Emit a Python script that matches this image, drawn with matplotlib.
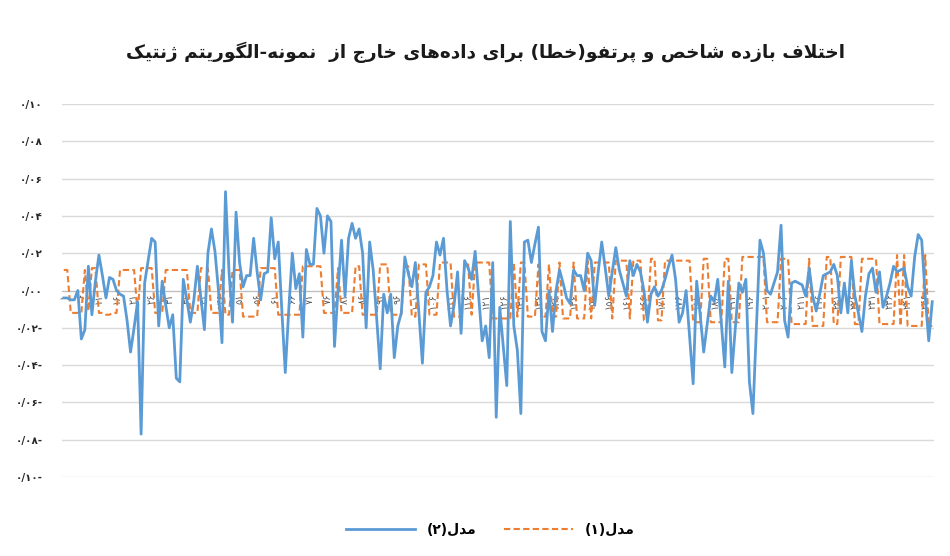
import matplotlib
matplotlib.use('Agg')
import matplotlib.pyplot as plt
from matplotlib.ticker import FuncFormatter, MultipleLocator
from matplotlib.lines import Line2D

# ---- data ----
title_text = 'اختلاف بازده شاخص و پرتفو(خطا) برای داده\u200cهای خارج از  نمونه-الگوریتم ژنتیک'
series_names = ['مدل(۱)', 'مدل(۲)']

days = list(range(1, 249))
label_step = 5

model1 = [0.011, 0.011, -0.012, -0.012, -0.012, -0.012, 0.011, -0.011, 0.012, 0.012,
          -0.012, -0.012, -0.013, -0.013, -0.012, -0.012, 0.011, 0.011, 0.011, 0.011,
          0.011, -0.012, 0.012, 0.012, 0.012, 0.012, -0.012, -0.012, -0.012, 0.011,
          0.011, 0.011, 0.011, 0.011, 0.011, 0.011, -0.012, -0.012, -0.012, 0.012,
          0.012, 0.012, -0.012, -0.012, -0.012, 0.011, -0.013, -0.013, 0.011, 0.011,
          0.011, -0.014, -0.014, -0.014, -0.014, -0.014, 0.012, 0.012, 0.012, 0.012,
          0.012, -0.013, -0.013, -0.013, -0.013, -0.013, -0.013, -0.013, 0.013, 0.013,
          0.013, 0.013, 0.013, 0.013, -0.012, -0.012, -0.012, -0.012, 0.012, -0.012,
          -0.012, -0.012, -0.012, 0.013, 0.013, -0.013, -0.013, -0.013, -0.013, -0.013,
          0.014, 0.014, 0.014, -0.013, -0.013, -0.013, -0.013, 0.013, 0.013, -0.014,
          -0.014, 0.014, 0.014, 0.014, -0.013, -0.013, -0.013, 0.015, 0.015, 0.015,
          0.015, -0.014, -0.014, -0.014, 0.014, 0.014, -0.013, 0.015, 0.015, 0.015,
          0.015, 0.015, -0.015, -0.015, -0.015, -0.015, -0.015, -0.015, 0.015, -0.014,
          0.015, 0.015, -0.014, -0.014, -0.014, 0.014, -0.014, -0.014, 0.014, -0.014,
          -0.014, 0.015, -0.015, -0.015, -0.015, 0.015, -0.015, -0.015, -0.015, 0.016,
          -0.015, 0.015, 0.015, 0.015, 0.015, 0.015, -0.015, 0.016, 0.016, 0.016,
          0.016, -0.015, 0.016, 0.016, 0.016, -0.016, -0.016, 0.017, 0.017, -0.016,
          -0.016, 0.016, 0.016, 0.016, 0.016, 0.016, 0.016, 0.016, 0.016, -0.017,
          -0.017, -0.017, 0.017, 0.017, -0.017, -0.017, -0.017, -0.017, 0.017, 0.017,
          -0.017, -0.017, -0.017, 0.018, 0.018, 0.018, 0.018, 0.018, 0.018, 0.018,
          -0.017, -0.017, -0.017, -0.017, 0.017, 0.017, 0.017, -0.018, -0.018, -0.018,
          -0.018, -0.018, 0.017, -0.019, -0.019, -0.019, -0.019, 0.018, 0.018, -0.018,
          -0.018, 0.018, 0.018, 0.018, 0.018, -0.018, -0.018, 0.017, 0.017, 0.017,
          0.017, 0.017, -0.018, -0.018, -0.018, -0.018, -0.018, 0.019, -0.019, 0.019,
          -0.019, -0.019, -0.019, -0.019, -0.019, 0.019, -0.019, -0.019]

model2 = [-0.004, -0.004, -0.005, -0.005, 0.000, -0.026, -0.021, 0.013, -0.013, 0.005,
          0.019, 0.008, -0.004, 0.007, 0.006, 0.000, -0.002, -0.003, -0.016, -0.033,
          -0.020, -0.006, -0.077, 0.004, 0.016, 0.028, 0.026, -0.019, 0.005, -0.008,
          -0.020, -0.013, -0.047, -0.049, 0.006, -0.005, -0.017, -0.005, 0.013, -0.004,
          -0.021, 0.020, 0.033, 0.021, 0.000, -0.028, 0.053, 0.010, -0.017, 0.042,
          0.015, 0.002, 0.008, 0.008, 0.028, 0.010, -0.005, 0.009, 0.010, 0.039,
          0.017, 0.026, -0.010, -0.044, -0.010, 0.020, 0.001, 0.009, -0.025, 0.022,
          0.014, 0.014, 0.044, 0.040, 0.020, 0.040, 0.037, -0.030, 0.000, 0.027,
          -0.003, 0.028, 0.036, 0.028, 0.033, 0.020, -0.020, 0.026, 0.011, -0.015,
          -0.042, -0.002, -0.012, -0.002, -0.036, -0.019, -0.012, 0.018, 0.009, 0.002,
          0.015, -0.012, -0.039, -0.001, 0.002, 0.008, 0.026, 0.019, 0.028, 0.000,
          -0.019, -0.008, 0.010, -0.023, 0.016, 0.012, 0.006, 0.021, -0.003, -0.027,
          -0.019, -0.036, 0.015, -0.068, -0.009, -0.030, -0.051, 0.037, -0.019, -0.032,
          -0.066, 0.026, 0.027, 0.015, 0.025, 0.034, -0.022, -0.027, 0.000, -0.022,
          0.000, 0.011, 0.004, -0.004, -0.007, 0.011, 0.008, 0.008, 0.000, 0.020,
          0.016, -0.008, 0.010, 0.026, 0.012, -0.003, 0.010, 0.023, 0.011, 0.004,
          -0.003, 0.016, 0.008, 0.014, 0.010, 0.000, -0.017, -0.002, 0.002, -0.003,
          0.000, 0.006, 0.013, 0.019, 0.006, -0.017, -0.012, 0.000, -0.025, -0.050,
          0.005, -0.013, -0.033, -0.018, -0.003, -0.006, 0.006, -0.017, -0.041, 0.005,
          -0.044, -0.020, 0.004, -0.001, 0.006, -0.049, -0.066, -0.020, 0.027, 0.020,
          0.000, -0.002, 0.004, 0.010, 0.035, -0.016, -0.025, 0.004, 0.005, 0.004,
          0.003, -0.003, 0.012, -0.003, -0.011, -0.002, 0.008, 0.009, 0.010, 0.014,
          0.008, -0.012, 0.004, -0.012, 0.016, -0.003, -0.012, -0.022, -0.003, 0.009,
          0.012, -0.001, 0.010, -0.009, -0.003, 0.004, 0.013, 0.010, 0.011, 0.012,
          0.002, -0.003, 0.018, 0.030, 0.027, -0.003, -0.027, -0.006]

# ---- simple arabic/persian shaping (matplotlib has no RTL layout) ----
FORMS = {  # isolated, final, initial, medial
    'ا': ('\uFE8D', '\uFE8E', None, None),
    'ب': ('\uFE8F', '\uFE90', '\uFE91', '\uFE92'),
    'پ': ('\uFB56', '\uFB57', '\uFB58', '\uFB59'),
    'ت': ('\uFE95', '\uFE96', '\uFE97', '\uFE98'),
    'ج': ('\uFE9D', '\uFE9E', '\uFE9F', '\uFEA0'),
    'خ': ('\uFEA5', '\uFEA6', '\uFEA7', '\uFEA8'),
    'د': ('\uFEA9', '\uFEAA', None, None),
    'ر': ('\uFEAD', '\uFEAE', None, None),
    'ز': ('\uFEAF', '\uFEB0', None, None),
    'ژ': ('\uFB8A', '\uFB8B', None, None),
    'ش': ('\uFEB5', '\uFEB6', '\uFEB7', '\uFEB8'),
    'ص': ('\uFEB9', '\uFEBA', '\uFEBB', '\uFEBC'),
    'ط': ('\uFEC1', '\uFEC2', '\uFEC3', '\uFEC4'),
    'ف': ('\uFED1', '\uFED2', '\uFED3', '\uFED4'),
    'ک': ('\uFB8E', '\uFB8F', '\uFB90', '\uFB91'),
    'گ': ('\uFB92', '\uFB93', '\uFB94', '\uFB95'),
    'ل': ('\uFEDD', '\uFEDE', '\uFEDF', '\uFEE0'),
    'م': ('\uFEE1', '\uFEE2', '\uFEE3', '\uFEE4'),
    'ن': ('\uFEE5', '\uFEE6', '\uFEE7', '\uFEE8'),
    'ه': ('\uFEE9', '\uFEEA', '\uFEEB', '\uFEEC'),
    'و': ('\uFEED', '\uFEEE', None, None),
    'ی': ('\uFBFC', '\uFBFD', '\uFBFE', '\uFBFF'),
}


def joins_next(c):
    return c in FORMS and FORMS[c][2] is not None


def fa(text):
    res = []
    i = 0
    while i < len(text):
        c = text[i]
        if c not in FORMS:
            if c != '\u200c':
                res.append(c)
            i += 1
            continue
        con_prev = i > 0 and joins_next(text[i - 1])
        if c == 'ل' and i + 1 < len(text) and text[i + 1] == 'ا':
            res.append('\uFEFC' if con_prev else '\uFEFB')
            i += 2
            continue
        nxt = text[i + 1] if i + 1 < len(text) else ''
        con_next = joins_next(c) and nxt in FORMS
        iso, fin, ini, med = FORMS[c]
        if con_prev and con_next:
            res.append(med)
        elif con_prev:
            res.append(fin)
        elif con_next:
            res.append(ini)
        else:
            res.append(iso)
        i += 1
    mirror = {'(': ')', ')': '('}
    return ''.join(mirror.get(c, c) for c in reversed(res))


FA_DIGITS = str.maketrans('0123456789', '۰۱۲۳۴۵۶۷۸۹')


def fa_num(v):
    s = '%.2f' % abs(v)
    s = s.translate(FA_DIGITS).replace('.', '/')
    if v < -1e-9:
        s = s + '-'
    return s


plt.rcParams['font.family'] = ['DejaVu Sans']

fig = plt.figure(figsize=(9.5, 5.56), dpi=100)
ax = fig.add_axes([62 / 950, 1 - 477 / 556, (934 - 62) / 950, (477 - 104) / 556])

# axis line through zero, like the excel original (set before tick styling, it resets ticks)
ax.spines['bottom'].set_position(('data', 0))
ax.spines['bottom'].set_color('#bfbfbf')
for s in ['top', 'right', 'left']:
    ax.spines[s].set_visible(False)

ax.plot(days, model1, color='#ED7D31', lw=1.5, ls=(0, (3, 1.6)), zorder=3)
ax.plot(days, model2, color='#5B9BD5', lw=2.0, zorder=4)

ax.set_xlim(0.5, len(days) + 0.5)
ax.set_ylim(-0.10, 0.10)
ax.yaxis.set_major_locator(MultipleLocator(0.02))
ax.yaxis.set_major_formatter(FuncFormatter(lambda v, p: fa_num(v)))
ax.grid(axis='y', color='#d9d9d9', lw=1.0)
ax.set_axisbelow(True)

ticks = days[::label_step]
ax.set_xticks(ticks)
ax.set_xticklabels([str(t).translate(FA_DIGITS) for t in ticks])
ax.tick_params(axis='x', length=0, pad=2, labelrotation=90, labelsize=7,
               labelcolor='#595959')
ax.tick_params(axis='y', length=0, pad=14, labelsize=7.5, labelcolor='#262626')
for lab in ax.get_yticklabels():
    lab.set_fontweight('bold')

fig.text(0.511, 0.906, fa(title_text), ha='center', va='center',
         fontsize=13.3, fontweight='bold', color='#1a1a1a')

h = [Line2D([], [], color='#5B9BD5', lw=2.0),
     Line2D([], [], color='#ED7D31', lw=1.5, ls=(0, (3, 1.6)))]
fig.legend(h, [fa(series_names[1]), fa(series_names[0])], loc='center',
           bbox_to_anchor=(0.516, 0.047), ncol=2, frameon=False,
           handlelength=5.0, columnspacing=2.0, handletextpad=0.8,
           prop={'size': 10, 'weight': 'bold'})

fig.savefig('out.png', dpi=100, facecolor='white')
